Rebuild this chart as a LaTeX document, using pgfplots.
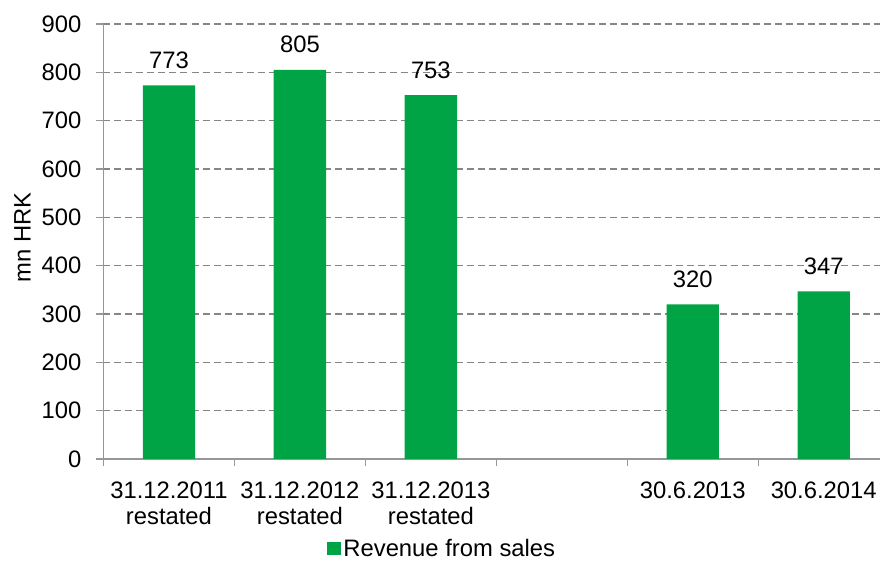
\documentclass[border=0pt]{standalone}
\usepackage{pgfplots}
\pgfplotsset{compat=1.18}
\usepackage{fontspec}
\setmainfont{Liberation Sans}
\usetikzlibrary{calc}
\definecolor{bargreen}{RGB}{0,164,68}
\definecolor{gridgray}{RGB}{134,134,134}
\definecolor{axgray}{RGB}{150,150,150}
\newcommand{\chartfont}{\fontsize{23.8bp}{26bp}\selectfont}
\begin{document}
\begin{tikzpicture}
\begin{axis}[
  name=ax,
  scale only axis,
  width=776.5bp, height=435bp,
  xmin=-0.5, xmax=5.43,
  ymin=0, ymax=900,
  ytick={0,100,...,900},
  xtick={0,1,2,4,5},
  xticklabels={{31.12.2011\\restated},{31.12.2012\\restated},{31.12.2013\\restated},{30.6.2013},{30.6.2014}},
  minor xtick={-0.5,0.5,1.5,2.5,3.5,4.5},
  major x tick style={draw=none},
  minor x tick style={draw=axgray, line width=1.2bp},
  minor tick length=7bp,
  major tick length=7bp,
  tick align=outside,
  ytick style={draw=axgray, line width=1.2bp},
  axis x line*=bottom,
  axis y line*=left,
  axis line style={draw=axgray, line width=1.2bp},
  ymajorgrids,
  major grid style={draw=gridgray, line width=1.2bp, dash pattern=on 7bp off 4bp},
  /pgf/number format/assume math mode=true,
  tick label style={font=\chartfont, text=black},
  yticklabel style={anchor=east, inner sep=0pt, xshift=-15bp},
  xticklabel style={align=center, anchor=north, inner sep=0pt, yshift=-16bp},
  ylabel={mn HRK},
  ylabel style={at={(axis description cs:-0.1043,0.51)}, anchor=center, font=\chartfont},
  ybar, bar width=0.4,
  nodes near coords,
  every node near coord/.append style={anchor=base, inner sep=0pt, yshift=17bp, font=\chartfont, text=black},
  legend style={at={(rel axis cs:0.4366,-0.206)}, anchor=center, draw=none, fill=none, font=\chartfont, inner sep=0pt, nodes={inner xsep=2.5bp, inner ysep=0pt}},
  legend image code/.code={\fill[bargreen] (0bp,-6.5bp) rectangle (13.5bp,6.5bp);},
  clip=false,
]
\addplot[fill=bargreen, draw=none] coordinates {(0,773) (1,805) (2,753) (4,320) (5,347)};
\addlegendentry{Revenue from sales}
\end{axis}
\pgfresetboundingbox
\path ($(ax.south west)+(-103.5bp,-102bp)$) rectangle ($(ax.north east)+(0bp,24bp)$);
\end{tikzpicture}
\end{document}
